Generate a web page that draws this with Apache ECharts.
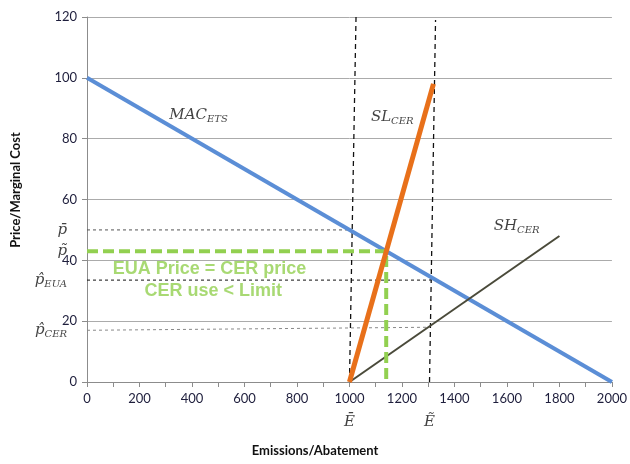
<!DOCTYPE html>
<html><head><meta charset="utf-8">
<script src="https://cdn.jsdelivr.net/npm/echarts@6/dist/echarts.min.js"></script>
<style>html,body{margin:0;padding:0;background:#fff}#c{width:630px;height:464px}</style>
</head><body><div id="c"></div>
<script>
// ---- data ----
var macETS = [[0, 100], [2000, 0]];
var slCER = [[1000, 0], [1320, 98]];
var shCER = [[1000, 0], [1800, 48]];
var eqGreen = [[0, 43], [1140, 43], [1140, 0]];
var eBarLine = [[1000, 0], [1025, 120]];
var eTildeLine = [[1305, 0], [1328, 119]];
var pBarLine = [[0, 50], [1000, 50]];
var pEUALine = [[0, 33.5], [1312, 33.5]];
var pCERLine = [[0, 17], [1305, 18]];
var yTicks = [0, 20, 40, 60, 80, 100, 120];
var xTicks = [0, 200, 400, 600, 800, 1000, 1200, 1400, 1600, 1800, 2000];
// annotation anchors [x, y, text]
var yMathLabels = [[0, 50, '{m|p̄}'], [0, 43, '{m|p̃}'], [0, 33.5, '{m|p̂}{s|EUA}'], [0, 17, '{m|p̂}{s|CER}']];
var curveLabels = [[425, 87.7, '{m|MAC}{s|ETS}'], [1163, 87, '{m|SL}{s|CER}'], [1637, 51.3, '{m|SH}{s|CER}']];
var xMathLabels = [[1000, 0, '{m|Ē}'], [1305, 0, '{m|Ẽ}']];
var greenNotes = [[467, 37.2, 'EUA Price = CER price'], [481, 30, 'CER use < Limit']];

var rich = {
  m: {fontFamily: 'DejaVu Serif', fontStyle: 'italic', fontSize: 15, color: '#111'},
  s: {fontFamily: 'DejaVu Serif', fontStyle: 'italic', fontSize: 10, color: '#111', padding: [8, 0, 0, 0]}
};
function lineSeries(d, color, width, type) {
  return {type: 'line', data: d, symbol: 'none', silent: true, animation: false,
    lineStyle: {color: color, width: width, type: type || 'solid'}};
}
function labelSeries(arr, labelOpt) {
  return {type: 'scatter', symbolSize: 0, silent: true, animation: false, clip: false,
    data: arr.map(function (a) { return {value: [a[0], a[1]], name: a[2]}; }),
    label: Object.assign({show: true, formatter: function (p) { return p.name; }, rich: rich}, labelOpt)};
}
var chart = echarts.init(document.getElementById('c'));
chart.setOption({
  animation: false,
  grid: {left: 87, right: 17, top: 17, bottom: 82},
  xAxis: {type: 'value', min: xTicks[0], max: xTicks[xTicks.length - 1], interval: 200,
    axisLine: {show: true, lineStyle: {color: '#8c8c8c'}},
    axisTick: {show: true, length: 5, lineStyle: {color: '#8c8c8c'}},
    minorTick: {show: true, splitNumber: 2, length: 5, lineStyle: {color: '#8c8c8c'}},
    splitLine: {show: false},
    axisLabel: {color: '#1e1e3c', fontFamily: 'Lato', fontSize: 13, margin: 10, formatter: function (v) { return String(v); }}},
  yAxis: {type: 'value', min: yTicks[0], max: yTicks[yTicks.length - 1], interval: 20,
    axisLine: {show: true, lineStyle: {color: '#8c8c8c'}},
    axisTick: {show: true, length: 5, lineStyle: {color: '#8c8c8c'}},
    splitLine: {show: true, lineStyle: {color: '#ababab'}},
    axisLabel: {color: '#1e1e3c', fontFamily: 'Lato', fontSize: 13, margin: 10, formatter: function (v) { return String(v); }}},
  graphic: [
    {type: 'text', left: 'center', top: 444, style: {text: 'Emissions/Abatement', font: 'bold 13px Lato', fill: '#111'}},
    {type: 'text', x: 16, y: 190, rotation: Math.PI / 2, style: {text: 'Price/Marginal Cost', font: 'bold 13px Lato', fill: '#111', align: 'center', verticalAlign: 'middle'}}
  ],
  series: [
    lineSeries(pBarLine, '#555', 1, [3, 3]),
    lineSeries(pEUALine, '#111', 1, [3, 3]),
    lineSeries(pCERLine, '#888', 1, [3, 3]),
    lineSeries(eBarLine, '#111', 1.3, [5, 4]),
    lineSeries(eTildeLine, '#111', 1.3, [5, 4]),
    lineSeries(macETS, '#5B8ED6', 4),
    lineSeries(shCER, '#4a4a3a', 2),
    lineSeries(eqGreen, '#92D050', 4, [11, 5]),
    lineSeries(slCER, '#E8701A', 5),
    labelSeries(yMathLabels, {position: 'left', distance: 20, align: 'right'}),
    labelSeries(curveLabels, {position: 'inside'}),
    labelSeries(xMathLabels, {position: 'bottom', distance: 33}),
    labelSeries(greenNotes, {position: 'inside', color: '#92D050', fontFamily: 'Liberation Sans', fontWeight: 'bold', fontSize: 18})
  ]
});
</script></body></html>
